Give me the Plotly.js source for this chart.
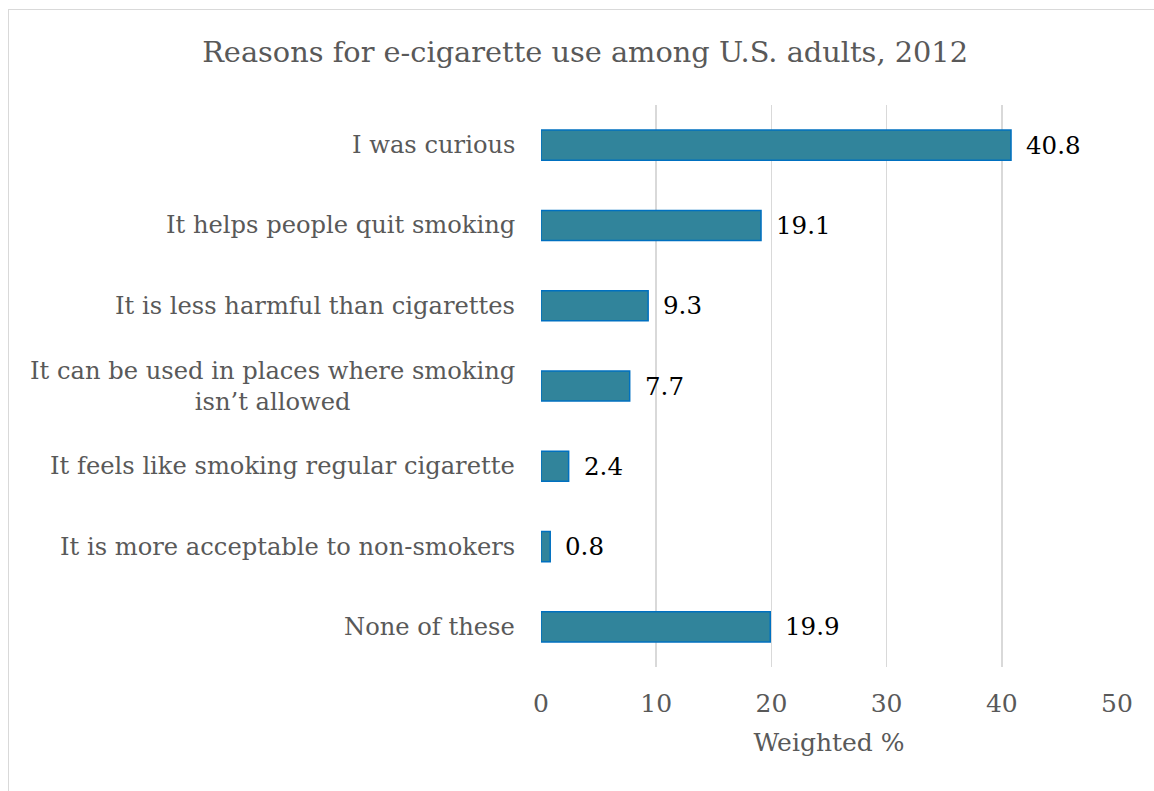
<!DOCTYPE html>
<html>
<head>
<meta charset="utf-8">
<script src="https://cdn.plot.ly/plotly-3.0.1.min.js"></script>
<style>
html,body{margin:0;padding:0;background:#fff;}
#wrap{position:relative;width:1154px;height:791px;}
#chart{position:absolute;left:0;top:0;width:1154px;height:791px;}
#frame{position:absolute;left:8px;top:9px;width:1160px;height:800px;border:1.5px solid #d9d9d9;pointer-events:none;}
</style>
</head>
<body>
<div id="wrap"><div id="chart"></div><div id="frame"></div></div>
<script>
const categories = [
  "I was curious",
  "It helps people quit smoking",
  "It is less harmful than cigarettes",
  "It can be used in places where smoking<br>isn’t allowed",
  "It feels like smoking regular cigarette",
  "It is more acceptable to non-smokers",
  "None of these"
];
const values = [40.8, 19.1, 9.3, 7.7, 2.4, 0.8, 19.9];
const xTicks = [0, 10, 20, 30, 40, 50];

const FONT = "DejaVu Serif, Liberation Serif, serif";
const GRAY = "#595959";

const trace = {
  type: "bar",
  orientation: "h",
  x: values,
  y: categories,
  marker: {color: "#31849B", line: {color: "#0070C0", width: 1.5}},
  hoverinfo: "none"
};

const annotations = [];
categories.forEach((c, i) => {
  annotations.push({
    xref: "paper", yref: "y", x: 0, y: c,
    text: c, showarrow: false, xanchor: "right", yanchor: "middle",
    align: "center", xshift: -24,
    font: {family: FONT, size: 24.2, color: GRAY}
  });
  annotations.push({
    xref: "x", yref: "y", x: values[i], y: c,
    text: values[i].toFixed(1), showarrow: false, xanchor: "left", yanchor: "middle",
    xshift: 13,
    font: {family: FONT, size: 24.5, color: "#000"}
  });
});

const layout = {
  width: 1154, height: 791,
  paper_bgcolor: "rgba(0,0,0,0)",
  plot_bgcolor: "#fff",
  margin: {l: 541, r: 37, t: 105, b: 124},
  title: {text: "Reasons for e-cigarette use among U.S. adults, 2012",
    font: {family: FONT, size: 28.8, color: GRAY}, x: 0.507, xanchor: "center", y: 0.934, yanchor: "middle"},
  bargap: 0.625,
  showlegend: false,
  xaxis: {
    range: [0, 50], tickvals: xTicks, ticktext: xTicks.map(String),
    showgrid: true, gridcolor: "#d9d9d9", gridwidth: 1.5,
    zeroline: false, showline: false, ticks: "",
    ticklabelstandoff: 19,
    tickfont: {family: FONT, size: 25, color: GRAY},
    title: {text: "Weighted %", font: {family: FONT, size: 25, color: GRAY}, standoff: 16},
    fixedrange: true
  },
  yaxis: {
    type: "category", categoryorder: "array", categoryarray: categories,
    autorange: "reversed", showticklabels: false, showgrid: false,
    zeroline: false, showline: false, ticks: "", fixedrange: true
  },
  annotations: annotations
};

Plotly.newPlot("chart", [trace], layout, {displayModeBar: false, staticPlot: true});
</script>
</body>
</html>
